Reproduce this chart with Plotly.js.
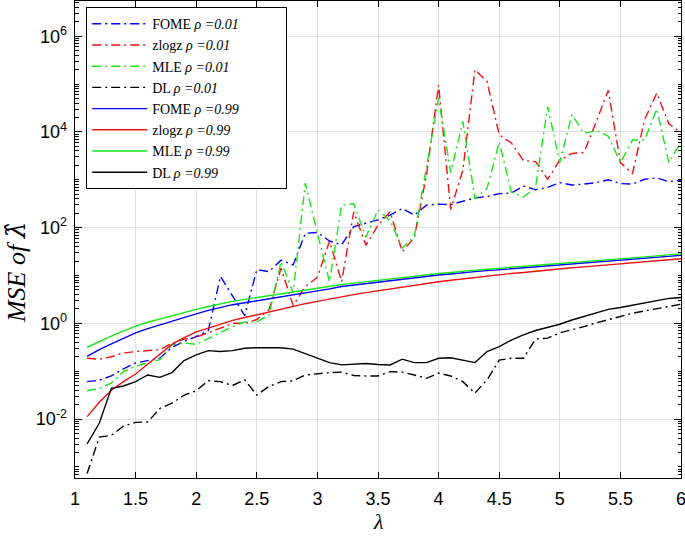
<!DOCTYPE html>
<html>
<head>
<meta charset="utf-8">
<script src="https://cdn.plot.ly/plotly-3.0.1.min.js"></script>
<style>
  body { margin: 0; background: #fff; }
  #grafico { width: 685px; height: 536px; }
</style>
</head>
<body>
<div id="grafico"></div>
<script>
// valores de lambda (eje x)
const lambda = [1.1, 1.2, 1.3, 1.4, 1.5, 1.6, 1.7, 1.8, 1.9, 2.0,
                2.1, 2.2, 2.3, 2.4, 2.5, 2.6, 2.7, 2.8, 2.9, 3.0,
                3.1, 3.2, 3.3, 3.4, 3.5, 3.6, 3.7, 3.8, 3.9, 4.0,
                4.1, 4.2, 4.3, 4.4, 4.5, 4.6, 4.7, 4.8, 4.9, 5.0,
                5.1, 5.2, 5.3, 5.4, 5.5, 5.6, 5.7, 5.8, 5.9, 6.0];

// MSE, rho = 0.01
const fome001 = [0.0603, 0.0646, 0.0794, 0.112, 0.148, 0.166, 0.186, 0.316, 0.417, 0.525,
                 0.708, 9.55, 3.80, 1.45, 13.2, 12.0, 20.9, 16.6, 75.9, 79.4,
                 52.5, 43.7, 105, 123, 145, 182, 251, 182, 295, 309,
                 302, 355, 417, 447, 513, 525, 741, 617, 692, 871,
                 776, 813, 871, 1000, 832, 813, 1023, 1096, 912, 977];
const zlogz001 = [0.186, 0.178, 0.200, 0.240, 0.257, 0.269, 0.282, 0.380, 0.468, 0.513,
                  0.631, 0.794, 1.0, 1.0, 1.20, 1.91, 14.1, 2.34, 5.89, 9.12,
                  52.5, 7.41, 214, 42.7, 112, 214, 31.6, 61.7, 1259, 95500,
                  240, 1585, 199500, 112200, 8710, 5890, 2512, 2399, 1023, 2570,
                  3548, 3715, 16200, 74100, 2290, 1349, 18200, 64600, 14800, 9550];
const mle001 = [0.0389, 0.0437, 0.0562, 0.0977, 0.126, 0.148, 0.174, 0.355, 0.389, 0.363,
                0.479, 0.631, 0.851, 1.07, 1.07, 1.48, 19.5, 4.37, 851, 75.9,
                7.41, 295, 316, 63.1, 234, 141, 37.2, 66.1, 1778, 51300,
                1413, 16600, 398, 661, 6170, 550, 437, 692, 33900, 2290,
                22900, 9330, 10700, 8130, 2290, 6760, 6760, 30200, 2290, 6170];
const dl001 = [0.000724, 0.00417, 0.00457, 0.00708, 0.00851, 0.00871, 0.0166, 0.0214, 0.0316, 0.0389,
               0.0631, 0.0603, 0.0501, 0.0661, 0.0316, 0.0479, 0.0603, 0.0631, 0.0832, 0.0891,
               0.0933, 0.0955, 0.0813, 0.0794, 0.0794, 0.0977, 0.0955, 0.0832, 0.0708, 0.0912,
               0.0794, 0.0603, 0.0347, 0.0661, 0.170, 0.186, 0.186, 0.468, 0.490, 0.631,
               0.724, 0.851, 1.02, 1.20, 1.38, 1.62, 1.82, 2.0, 2.24, 2.51];

// MSE, rho = 0.99
const fome099 = [0.204, 0.282, 0.372, 0.490, 0.631, 0.776, 0.933, 1.12, 1.35, 1.58,
                 1.86, 2.14, 2.45, 2.69, 2.95, 3.24, 3.55, 3.89, 4.37, 4.79,
                 5.25, 5.89, 6.31, 6.92, 7.41, 7.94, 8.51, 9.12, 9.55, 10.2,
                 10.7, 11.5, 12.0, 12.6, 13.2, 13.8, 14.5, 15.1, 15.8, 16.6,
                 17.4, 18.2, 19.1, 20.0, 20.9, 21.9, 22.9, 24.0, 25.1, 26.3];
const zlogz099 = [0.0112, 0.0224, 0.0398, 0.0603, 0.0871, 0.141, 0.234, 0.363, 0.501, 0.661,
                  0.794, 0.955, 1.15, 1.32, 1.51, 1.74, 2.0, 2.29, 2.57, 2.88,
                  3.24, 3.63, 3.98, 4.37, 4.79, 5.25, 5.75, 6.31, 6.76, 7.41,
                  7.94, 8.51, 9.12, 9.77, 10.2, 11.0, 11.5, 12.3, 12.9, 13.8,
                  14.5, 15.1, 15.8, 17.0, 17.8, 18.6, 19.5, 20.4, 21.4, 22.4];
const mle099 = [0.316, 0.417, 0.537, 0.692, 0.871, 1.05, 1.23, 1.45, 1.70, 1.95,
                2.24, 2.57, 2.88, 3.16, 3.47, 3.80, 4.07, 4.47, 4.90, 5.37,
                5.89, 6.46, 6.92, 7.41, 7.94, 8.51, 9.12, 9.77, 10.2, 11.0,
                11.5, 12.3, 12.9, 13.5, 14.1, 14.8, 15.5, 16.2, 17.0, 17.8,
                18.6, 19.5, 20.4, 21.4, 22.4, 23.4, 24.5, 25.7, 26.9, 28.2];
const dl099 = [0.00302, 0.00813, 0.0437, 0.0490, 0.0603, 0.0832, 0.0741, 0.0933, 0.166, 0.219,
               0.269, 0.257, 0.269, 0.302, 0.309, 0.309, 0.309, 0.288, 0.234, 0.186,
               0.151, 0.135, 0.138, 0.145, 0.138, 0.135, 0.178, 0.151, 0.151, 0.186,
               0.191, 0.170, 0.151, 0.257, 0.324, 0.447, 0.575, 0.708, 0.813, 0.955,
               1.17, 1.38, 1.66, 1.95, 2.14, 2.40, 2.69, 2.95, 3.31, 3.47];

const xTicks = [1, 1.5, 2, 2.5, 3, 3.5, 4, 4.5, 5, 5.5, 6];
const xTickText = ['1', '1.5', '2', '2.5', '3', '3.5', '4', '4.5', '5', '5.5', '6'];
const yTicks = [1e-2, 1, 1e2, 1e4, 1e6];
const yTickText = ['10<sup>-2</sup>', '10<sup>0</sup>', '10<sup>2</sup>', '10<sup>4</sup>', '10<sup>6</sup>'];

const azul = '#0000ff';
const rojo = '#ee1111';
const verde = '#19e619';
const negro = '#000000';
const rayaPunto = '9px,4px,2px,4px';

const series = [
    { metodo: 'FOME', rho: '0.01', y: fome001, color: azul, dash: rayaPunto },
    { metodo: 'zlogz', rho: '0.01', y: zlogz001, color: rojo, dash: rayaPunto },
    { metodo: 'MLE', rho: '0.01', y: mle001, color: verde, dash: rayaPunto },
    { metodo: 'DL', rho: '0.01', y: dl001, color: negro, dash: rayaPunto },
    { metodo: 'FOME', rho: '0.99', y: fome099, color: azul, dash: 'solid' },
    { metodo: 'zlogz', rho: '0.99', y: zlogz099, color: rojo, dash: 'solid' },
    { metodo: 'MLE', rho: '0.99', y: mle099, color: verde, dash: 'solid' },
    { metodo: 'DL', rho: '0.99', y: dl099, color: negro, dash: 'solid' }
];

const rangoY = [-3.233, 6.736];
// espacio extra a la derecha del texto de la leyenda
const relleno = '\u00a0'.repeat(12);

const trazas = series.map((s, i) => ({
    x: lambda,
    y: s.y,
    mode: 'lines',
    name: `${s.metodo} <i>ρ =${s.rho}</i>` + (i === 0 ? relleno : ''),
    line: { color: s.color, width: 1.4, dash: s.dash },
    hoverinfo: 'skip'
}));

// eje auxiliar solo para las marcas menores del eje logaritmico
trazas.push({ x: [null], y: [null], yaxis: 'y2', mode: 'lines', showlegend: false, hoverinfo: 'skip' });

const fuenteEjes = { family: 'Liberation Sans, Arial, sans-serif', size: 18, color: '#000' };
const fuenteTitulo = { family: 'Liberation Serif, serif', size: 26, color: '#000' };

const layout = {
    width: 685,
    height: 536,
    margin: { l: 75, r: 4, t: 1, b: 58 },
    paper_bgcolor: '#fff',
    plot_bgcolor: '#fff',
    showlegend: true,
    legend: {
        x: 0.0185, y: 0.987, xanchor: 'left', yanchor: 'top',
        bgcolor: '#fff', bordercolor: '#000', borderwidth: 1,
        font: { family: 'Liberation Serif, serif', size: 14, color: '#000' },
        itemwidth: 55
    },
    xaxis: {
        range: [1, 6],
        tickmode: 'array', tickvals: xTicks, ticktext: xTickText,
        ticks: 'inside', ticklen: 6, tickcolor: '#000',
        showline: true, linecolor: '#000', linewidth: 1.3, mirror: 'ticks',
        showgrid: true, gridcolor: '#e0e0e0', zeroline: false,
        tickfont: fuenteEjes, ticklabelstandoff: 4, ticklabeloverflow: 'allow'
    },
    yaxis: {
        type: 'log', range: rangoY,
        tickmode: 'array', tickvals: yTicks, ticktext: yTickText,
        ticks: 'inside', ticklen: 7, tickcolor: '#000',
        showline: true, linecolor: '#000', linewidth: 1.3, mirror: 'ticks',
        showgrid: true, gridcolor: '#e0e0e0', zeroline: false,
        tickfont: fuenteEjes, ticklabelstandoff: 3
    },
    yaxis2: {
        type: 'log', range: rangoY, overlaying: 'y', anchor: 'x', side: 'left',
        dtick: 'D1', ticks: 'inside', ticklen: 3.5, tickcolor: '#000',
        showticklabels: false, showgrid: false, showline: false, zeroline: false,
        mirror: 'ticks'
    },
    annotations: [
        {
            text: '<i>MSE of </i><span style="font-family:DejaVu Serif"><i>λ\u0302</i></span>',
            xref: 'paper', yref: 'paper', x: -0.097, y: 0.43,
            xanchor: 'center', yanchor: 'middle', textangle: -90, showarrow: false,
            font: fuenteTitulo
        },
        {
            text: '<i>λ</i>',
            xref: 'paper', yref: 'paper', x: 0.5, y: -0.121,
            xanchor: 'center', yanchor: 'bottom', showarrow: false,
            font: { family: 'Liberation Serif, serif', size: 22, color: '#000' }
        }
    ]
};

Plotly.newPlot('grafico', trazas, layout, { displayModeBar: false, staticPlot: true });
</script>
</body>
</html>
